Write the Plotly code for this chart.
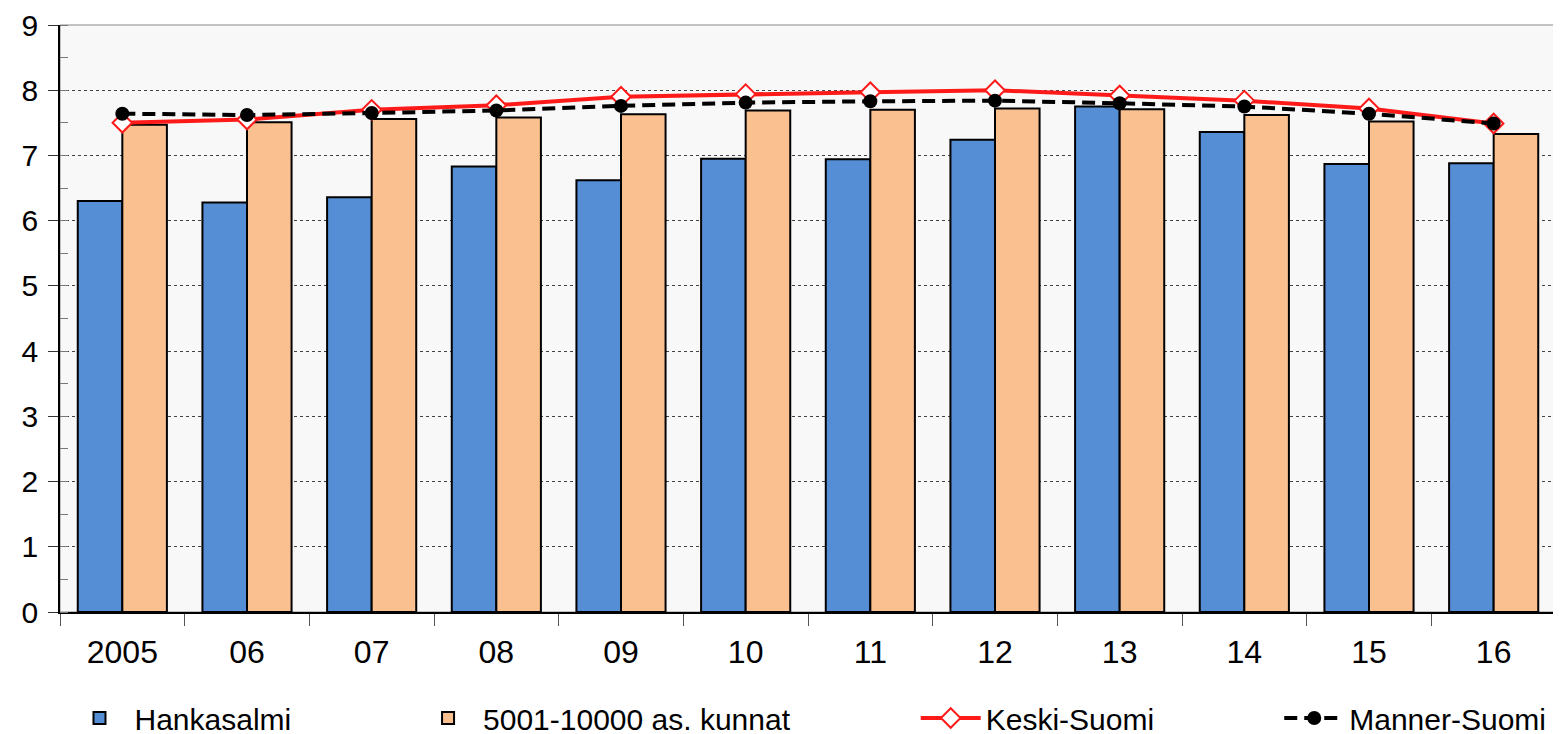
import plotly.graph_objects as go

years = ["2005", "06", "07", "08", "09", "10", "11", "12", "13", "14", "15", "16"]
hankasalmi = [6.30, 6.28, 6.36, 6.83, 6.62, 6.95, 6.94, 7.24, 7.75, 7.36, 6.87, 6.88]
kunnat = [7.47, 7.51, 7.56, 7.58, 7.63, 7.69, 7.70, 7.72, 7.71, 7.62, 7.52, 7.33]
keski_suomi = [7.50, 7.55, 7.70, 7.77, 7.90, 7.94, 7.97, 8.00, 7.92, 7.84, 7.72, 7.49]
manner_suomi = [7.64, 7.62, 7.65, 7.69, 7.76, 7.81, 7.83, 7.84, 7.80, 7.75, 7.64, 7.49]
y_ticks = [0, 1, 2, 3, 4, 5, 6, 7, 8, 9]

FONT = "Liberation Sans, Arial, sans-serif"

fig = go.Figure()
fig.add_trace(go.Bar(x=years, y=hankasalmi, name="Hankasalmi",
                     marker=dict(color="#558ED5", line=dict(color="black", width=2)),
                     legend="legend", showlegend=True))
fig.add_trace(go.Bar(x=years, y=kunnat, name="5001-10000 as. kunnat",
                     marker=dict(color="#FAC090", line=dict(color="black", width=2)),
                     legend="legend2", showlegend=True))
fig.add_trace(go.Scatter(x=years, y=keski_suomi, name="Keski-Suomi", mode="lines+markers",
                         line=dict(color="#FF1A1A", width=4),
                         marker=dict(symbol="diamond", size=15, color="white",
                                     line=dict(color="#FF1A1A", width=2)),
                         legend="legend3", showlegend=True))
fig.add_trace(go.Scatter(x=years, y=manner_suomi, name="Manner-Suomi", mode="lines+markers",
                         line=dict(color="black", width=4, dash="13px,7px"),
                         marker=dict(symbol="circle", size=14, color="black"),
                         legend="legend4", showlegend=True))

legend_common = dict(orientation="h", yref="container", yanchor="middle", y=0.0327,
                     xanchor="left", itemwidth=60,
                     font=dict(family=FONT, size=30, color="black"),
                     bgcolor="rgba(0,0,0,0)", borderwidth=0)

fig.update_layout(
    width=1553, height=734,
    margin=dict(l=52, r=5, t=17, b=130, autoexpand=False),
    showlegend=True,
    paper_bgcolor="white",
    plot_bgcolor="#F8F8F8",
    barmode="group",
    bargap=0.285,
    bargroupgap=0,
    font=dict(family=FONT, size=30, color="black"),
    legend=dict(x=0.003, **legend_common),
    legend2=dict(x=0.236, **legend_common),
    legend3=dict(x=0.572, **legend_common),
    legend4=dict(x=0.815, **legend_common),
    xaxis=dict(
        type="category",
        range=[-0.5, 11.5],
        tickson="boundaries",
        ticks="outside", ticklen=12, tickcolor="#555555", tickwidth=1,
        showline=True, linecolor="black", linewidth=2,
        showgrid=False,
        ticklabelstandoff=11,
        tickfont=dict(family=FONT, size=32, color="black"),
    ),
    yaxis=dict(
        range=[0, 9],
        tickvals=y_ticks,
        ticks="outside", ticklen=10, tickcolor="#333333", tickwidth=1,
        minor=dict(dtick=0.5, ticks="inside", ticklen=8, tickcolor="#777777", showgrid=False),
        showline=True, linecolor="black", linewidth=1.5,
        showgrid=True, gridcolor="#444444", griddash="dot", gridwidth=1,
        zeroline=False,
        ticklabelstandoff=4,
        tickfont=dict(family=FONT, size=30, color="black"),
    ),
)

fig.add_shape(type="rect", xref="paper", yref="paper", x0=0, x1=1, y0=0, y1=1,
              line=dict(color="#888888", width=1), layer="below")

fig.write_html("out.html")
